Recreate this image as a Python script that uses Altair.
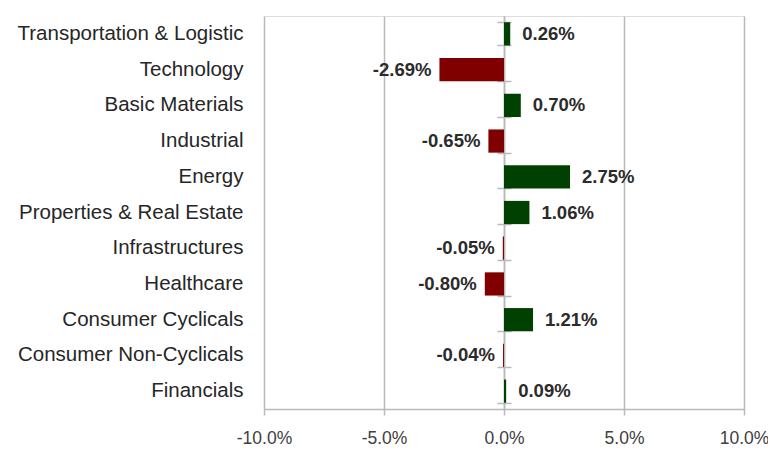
import altair as alt
import pandas as pd

categories = [
    "Transportation & Logistic", "Technology", "Basic Materials", "Industrial",
    "Energy", "Properties & Real Estate", "Infrastructures", "Healthcare",
    "Consumer Cyclicals", "Consumer Non-Cyclicals", "Financials",
]
values = [0.26, -2.69, 0.70, -0.65, 2.75, 1.06, -0.05, -0.80, 1.21, -0.04, 0.09]
x_ticks = [-10, -5, 0, 5, 10]

df = pd.DataFrame({"cat": categories, "val": values})
df["label"] = [f"{v:.2f}%" for v in values]
df["sign"] = ["pos" if v >= 0 else "neg" for v in values]

grey = "#b9b9b9"
yscale = alt.Scale(domain=categories, paddingInner=0.35, paddingOuter=0.175)
xscale = alt.Scale(domain=[-10, 10], nice=False, zero=False)

xaxis = alt.Axis(
    values=x_ticks,
    labelExpr="replace(format(datum.value, '.1f'), '\u2212', '-') + '%'",
    grid=True, gridColor=grey, gridWidth=1.5, domainColor=grey, domainWidth=1.5,
    tickColor=grey, tickWidth=1.5, tickSize=6, labelFont="Liberation Sans",
    labelFontSize=17.5, labelColor="#404040", labelPadding=14, title=None,
    labelFlush=False, labelOverlap=False,
)

bars = alt.Chart(df).mark_bar().encode(
    y=alt.Y("cat:N", scale=yscale, sort=categories,
            axis=alt.Axis(orient="left", domain=False, ticks=False, title=None,
                          labelFont="Liberation Sans", labelFontSize=20.5,
                          labelColor="#262626", labelPadding=21, labelLimit=300)),
    x=alt.X("val:Q", scale=xscale, axis=xaxis),
    color=alt.Color("sign:N", scale=alt.Scale(domain=["pos", "neg"], range=["#004000", "#800000"]), legend=None),
)

zero_axis_left = alt.Chart(df).mark_point(opacity=0).encode(
    y=alt.Y("cat:N", scale=yscale, sort=categories,
            axis=alt.Axis(orient="left", offset=-240, labels=False, title=None,
                          tickBand="extent", tickSize=7, tickColor=grey, tickWidth=1.5,
                          domainColor=grey, domainWidth=1.5)),
    x=alt.X("val:Q", scale=xscale),
)
zero_axis_right = alt.Chart(df).mark_point(opacity=0).encode(
    y=alt.Y("cat:N", scale=yscale, sort=categories,
            axis=alt.Axis(orient="right", offset=-240, labels=False, title=None,
                          tickBand="extent", tickSize=7, tickColor=grey, tickWidth=1.5,
                          domain=False)),
    x=alt.X("val:Q", scale=xscale),
)

pos_text = alt.Chart(df).transform_filter("datum.val >= 0").mark_text(
    align="left", baseline="middle", dx=12, font="Liberation Sans", fontSize=18.5,
    fontWeight="bold", color="#2b2b2b",
).encode(y=alt.Y("cat:N", scale=yscale, sort=categories, axis=None),
         x=alt.X("val:Q", scale=xscale), text="label:N")

neg_text = alt.Chart(df).transform_filter("datum.val < 0").mark_text(
    align="right", baseline="middle", dx=-8, font="Liberation Sans", fontSize=18.5,
    fontWeight="bold", color="#2b2b2b",
).encode(y=alt.Y("cat:N", scale=yscale, sort=categories, axis=None),
         x=alt.X("val:Q", scale=xscale), text="label:N")

chart = alt.layer(bars, zero_axis_left, zero_axis_right, pos_text, neg_text).resolve_axis(
    y="independent"
).properties(
    width=480, height=393,
    autosize=alt.AutoSizeParams(type="none"),
    padding={"left": 256, "top": 8, "right": 24, "bottom": 52},
).configure_view(stroke=None).configure(background="white")

chart.save("out.html", embed_options={"renderer": "svg", "actions": False})
